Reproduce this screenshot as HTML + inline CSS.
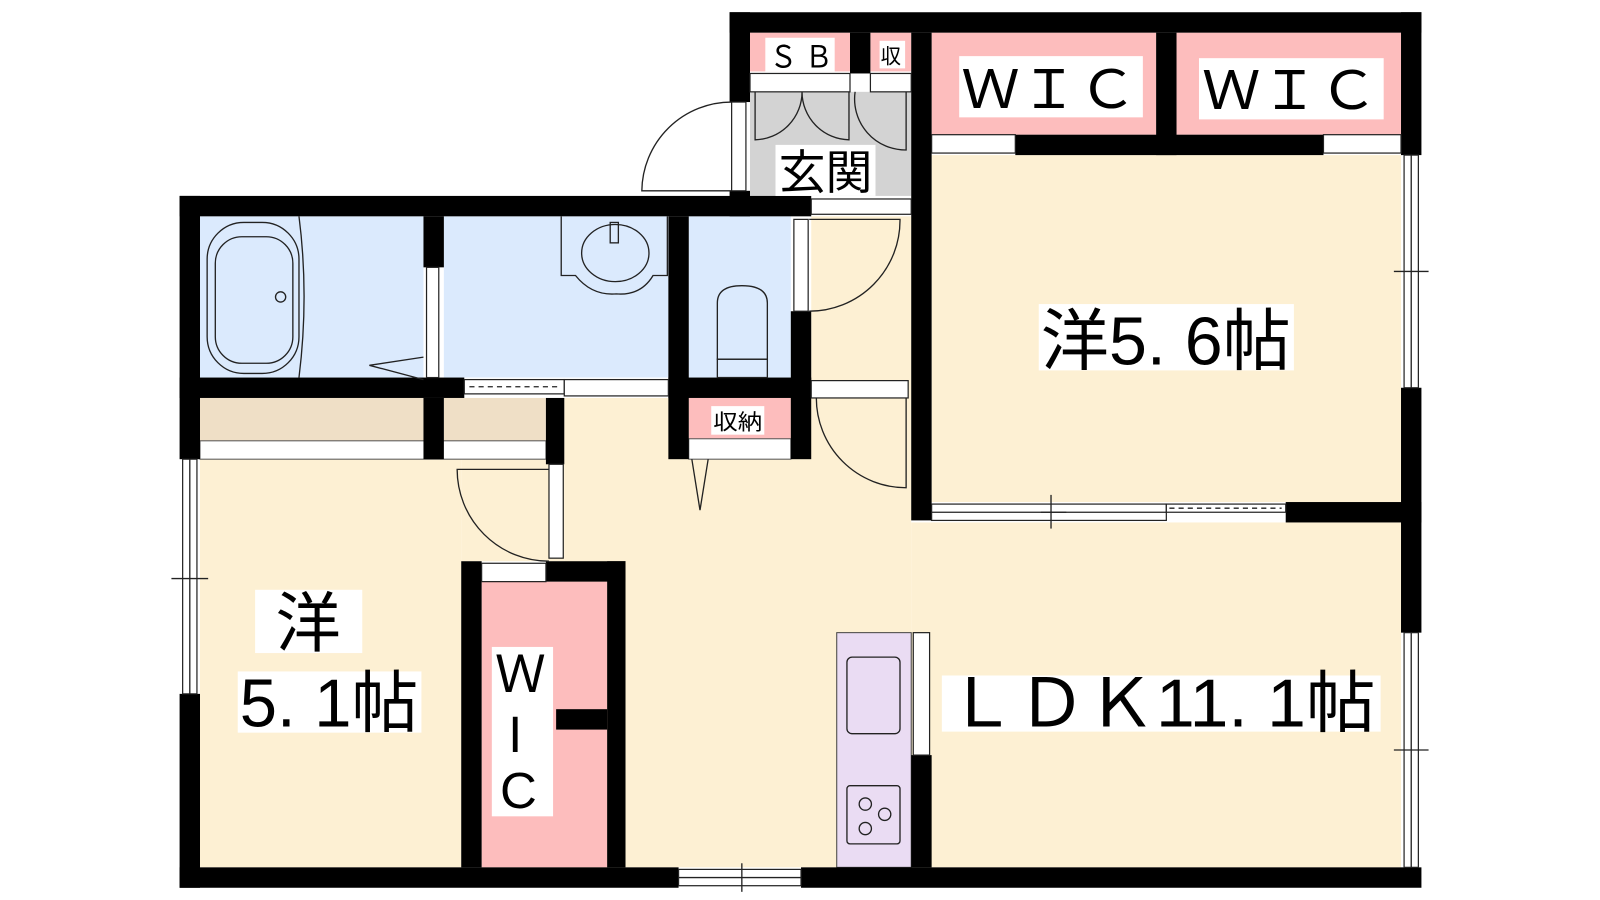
<!DOCTYPE html>
<html><head><meta charset="utf-8"><style>
html,body{margin:0;padding:0;background:#fff;width:1600px;height:900px;overflow:hidden}
text{font-family:"Liberation Sans","Noto Sans CJK JP",sans-serif;fill:#000}
</style></head><body>
<svg width="1600" height="900" viewBox="0 0 1568 882" preserveAspectRatio="none" xmlns="http://www.w3.org/2000/svg">
<!-- floors -->
<rect x="553" y="390" width="340" height="460" fill="#fdf0d3"/>
<rect x="893" y="512" width="480" height="338" fill="#fdf0d3"/>
<rect x="913" y="152" width="460" height="340" fill="#fdf0d3"/>
<rect x="196" y="450" width="256" height="400" fill="#fdf0d3"/>
<rect x="452" y="450" width="101" height="100" fill="#fdf0d3"/>
<rect x="795" y="212" width="98" height="178" fill="#fdf0d3"/>
<rect x="196" y="212" width="219" height="158" fill="#dbeafd"/>
<rect x="435" y="212" width="220" height="158" fill="#dbeafd"/>
<rect x="675" y="212" width="100" height="158" fill="#dbeafd"/>
<rect x="735" y="90" width="158" height="102" fill="#d3d3d3"/>
<rect x="196" y="390" width="219" height="42" fill="#efdfc6"/>
<rect x="435" y="390" width="100" height="42" fill="#efdfc6"/>
<rect x="196" y="432" width="339" height="18" fill="#fff" stroke="#555" stroke-width="1"/>
<rect x="735" y="32" width="98" height="38" fill="#fdbdbd"/>
<rect x="853" y="32" width="40" height="38" fill="#fdbdbd"/>
<rect x="913" y="32" width="220" height="100" fill="#fdbdbd"/>
<rect x="1153" y="32" width="220" height="100" fill="#fdbdbd"/>
<rect x="675" y="390" width="100" height="40" fill="#fdbdbd"/>
<rect x="675" y="430" width="100" height="20" fill="#fff" stroke="#555"/>
<rect x="472" y="570" width="123" height="280" fill="#fdbdbd"/>
<rect x="820" y="620" width="73" height="230" fill="#eadcf3" stroke="#444" stroke-width="1"/>
<!-- walls -->
<g fill="#000">
<rect x="715" y="12" width="678" height="20"/>
<rect x="715" y="12" width="20" height="88"/>
<rect x="715" y="187" width="20" height="25"/>
<rect x="833" y="32" width="20" height="40"/>
<rect x="893" y="32" width="20" height="478"/>
<rect x="1133" y="32" width="20" height="120"/>
<rect x="995" y="132" width="302" height="20"/>
<rect x="1373" y="12" width="20" height="140"/>
<rect x="1373" y="380" width="20" height="240"/>
<rect x="1260" y="492" width="133" height="20"/>
<rect x="176" y="192" width="619" height="20"/>
<rect x="176" y="192" width="20" height="258"/>
<rect x="176" y="680" width="20" height="190"/>
<rect x="176" y="850" width="489" height="20"/>
<rect x="785" y="850" width="608" height="20"/>
<rect x="415" y="212" width="20" height="50"/>
<rect x="176" y="370" width="279" height="20"/>
<rect x="415" y="390" width="20" height="60"/>
<rect x="535" y="390" width="18" height="65"/>
<rect x="655" y="212" width="20" height="238"/>
<rect x="655" y="370" width="140" height="20"/>
<rect x="775" y="305" width="20" height="145"/>
<rect x="452" y="550" width="20" height="300"/>
<rect x="535" y="550" width="78" height="20"/>
<rect x="595" y="550" width="18" height="300"/>
<rect x="545" y="695" width="50" height="20"/>
<rect x="893" y="740" width="20" height="110"/>
</g>
<!-- doors / windows -->
<g fill="#fff" stroke="#222" stroke-width="1.2">
<rect x="455" y="372" width="98" height="14" fill="#fff"/>
<rect x="553" y="372" width="102" height="16"/>
<rect x="735" y="72" width="98" height="18"/>
<rect x="853" y="72" width="40" height="18"/>
<rect x="795" y="195" width="98" height="15"/>
<rect x="913" y="132" width="82" height="18"/>
<rect x="1297" y="132" width="76" height="18"/>
<rect x="418" y="262" width="12" height="108"/>
<rect x="778" y="215" width="14" height="90"/>
<rect x="717" y="100" width="14" height="87"/>
<rect x="795" y="373" width="95" height="17"/>
<rect x="538" y="455" width="14" height="92"/>
<rect x="472" y="552" width="63" height="18"/>
<rect x="895" y="620" width="16" height="120"/>
<rect x="913" y="494" width="230" height="16"/>
<rect x="1143" y="494" width="117" height="8"/>
<rect x="1376" y="152" width="14" height="228"/>
<rect x="1376" y="620" width="14" height="230"/>
<rect x="179" y="450" width="14" height="230"/>
<rect x="665" y="852" width="120" height="16"/>
</g>
<g fill="none" stroke="#222" stroke-width="1.3">
<line x1="460" y1="379" x2="550" y2="379" stroke-dasharray="5,4"/>
<line x1="1146" y1="498" x2="1256" y2="498" stroke-dasharray="5,4"/>
<line x1="1383" y1="152" x2="1383" y2="380"/><line x1="1383" y1="620" x2="1383" y2="850"/>
<line x1="186" y1="450" x2="186" y2="680"/><line x1="913" y1="502" x2="1143" y2="502"/>
<line x1="665" y1="860" x2="785" y2="860"/>
<line x1="1030" y1="485" x2="1030" y2="518"/><line x1="1020" y1="502" x2="1045" y2="502"/>
<line x1="1366" y1="266" x2="1400" y2="266"/><line x1="1366" y1="735" x2="1400" y2="735"/>
<line x1="168" y1="567" x2="204" y2="567"/><line x1="727" y1="846" x2="727" y2="874"/>
<path d="M717 100 A88 88 0 0 0 629 187 L717 187"/>
<path d="M793 215 L882 215 A89 89 0 0 1 793 305"/>
<path d="M888 390 L888 478 A88 88 0 0 1 800 390"/>
<path d="M538 460 L448 460 A90 90 0 0 0 538 550"/>
<path d="M740 90 L740 137 A47 47 0 0 0 786 90 A47 47 0 0 0 832 137 L832 90"/>
<path d="M838 90 A50 50 0 0 0 888 147 L888 90"/>
<path d="M415 350 L362 358 L415 372"/>
<path d="M678 450 L686 500 L694 450"/>
<rect x="203" y="218" width="90" height="148" rx="36"/>
<rect x="211" y="232" width="76" height="124" rx="26"/>
<circle cx="275" cy="291" r="5"/>
<path d="M293 212 Q303 290 293 370"/>
<path d="M550 212 L550 270 L564 270 Q580 290 604 288 Q628 290 640 270 L654 270 L654 212"/>
<ellipse cx="603" cy="248" rx="33" ry="28"/>
<rect x="598" y="218" width="8" height="20"/>
<path d="M703 352 L703 297 Q703 280 727 280 Q752 280 752 297 L752 352 Z"/>
<rect x="703" y="352" width="49" height="18"/>
<rect x="830" y="644" width="52" height="75" rx="5"/>
<rect x="830" y="770" width="52" height="57" rx="3"/>
<circle cx="848" cy="788" r="6"/><circle cx="867" cy="798" r="6"/><circle cx="848" cy="812" r="6"/>
</g>
<!-- labels -->
<g fill="#fff">
<rect x="750" y="37" width="68" height="33"/><rect x="862" y="40" width="25" height="27"/>
<rect x="760" y="142" width="98" height="50"/>
<rect x="940" y="55" width="180" height="60"/><rect x="1175" y="57" width="181" height="60"/>
<rect x="1018" y="298" width="250" height="65"/>
<rect x="923" y="662" width="430" height="55"/>
<rect x="250" y="578" width="105" height="62"/><rect x="233" y="658" width="180" height="60"/>
<rect x="482" y="634" width="60" height="166"/>
<rect x="697" y="398" width="52" height="28"/>
</g>
<text x="754" y="66" font-size="30" textLength="62" lengthAdjust="spacingAndGlyphs">Ｓ Ｂ</text>
<text x="863" y="62" font-size="20">収</text>
<text x="763" y="185" font-size="46" textLength="92" lengthAdjust="spacingAndGlyphs">玄関</text>
<text x="942" y="106" font-size="52" textLength="172" lengthAdjust="spacingAndGlyphs">ＷＩＣ</text>
<text x="1178" y="107" font-size="52" textLength="172" lengthAdjust="spacingAndGlyphs">ＷＩＣ</text>
<text x="1020" y="357" font-size="66" textLength="245" lengthAdjust="spacingAndGlyphs">洋5. 6帖</text>
<text x="928" y="712" font-size="66" textLength="420" lengthAdjust="spacingAndGlyphs">ＬＤＫ11. 1帖</text>
<text x="270" y="633" font-size="64">洋</text>
<text x="235" y="712" font-size="66" textLength="175" lengthAdjust="spacingAndGlyphs">5. 1帖</text>
<text x="485" y="678" font-size="50">Ｗ</text>
<text x="498" y="737" font-size="50">I</text>
<text x="490" y="792" font-size="50">C</text>
<text x="699" y="421" font-size="21" textLength="48" lengthAdjust="spacingAndGlyphs">収納</text>
</svg>
</body></html>
